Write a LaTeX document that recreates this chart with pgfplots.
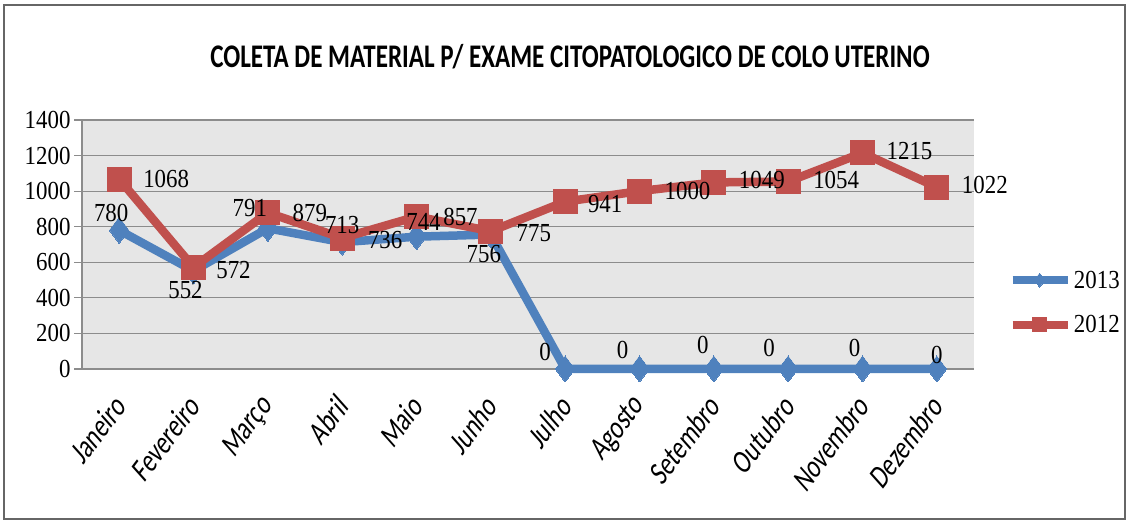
\documentclass[border=0pt]{standalone}
\usepackage{fontspec}
\setmainfont{Carlito}
\newfontfamily\numfont[FakeStretch=0.88]{Liberation Serif}
\newfontfamily\titlefont[FakeStretch=0.76]{Carlito}
\newfontfamily\monthfont[FakeStretch=0.8, FakeSlant=0.2]{Carlito}
\usepackage{pgfplots}
\pgfplotsset{compat=1.18}
\usepackage{pgfplotstable}
\definecolor{ser13}{HTML}{4F81BD}
\definecolor{ser12}{HTML}{C0504D}
\definecolor{plotbg}{HTML}{E6E6E6}
\definecolor{gridc}{HTML}{8C8C8C}

\pgfplotstableread{
x y lab dx dy
0 780 780 -8 17
1 552 552 -8 -19
2 791 791 -18 20
3 713 713 0 17
4 744 744 7 15
5 756 756 -7 -19
6 0 0 -20 17
7 0 0 -17 19
8 0 0 -11 24
9 0 0 -19 21
10 0 0 -8 21
11 0 0 0 14
}\dataA

\pgfplotstableread{
x y lab dx dy
0 1068 1068 47 0
1 572 572 40 -3
2 879 879 42 0
3 736 736 43 -2
4 857 857 44 0
5 775 775 43 -2
6 941 941 40 -2
7 1000 1000 48 0
8 1049 1049 48 2
9 1054 1054 48 2
10 1215 1215 47 2
11 1022 1022 48 2
}\dataB

\begin{document}
\begin{tikzpicture}[x=1pt,y=1pt]
\path[use as bounding box] (0pt,0pt) rectangle (1129pt,524pt);
\fill[white] (0pt,0pt) rectangle (1129pt,524pt);
\draw[gray!80!black, line width=2.5pt] (4pt,5pt) rectangle (1125pt,519pt);
\node[font=\titlefont\bfseries\fontsize{33}{33}\selectfont] at (570pt,467pt) {COLETA DE MATERIAL P/ EXAME CITOPATOLOGICO DE COLO UTERINO};
\begin{axis}[
  at={(82pt,155pt)}, anchor=south west,
  width=892pt, height=249pt, scale only axis,
  xmin=-0.5, xmax=11.5, ymin=0, ymax=1400,
  ytick={0,200,...,1400},
  xtick={0,...,11},
  xticklabels={Janeiro,Fevereiro,Março,Abril,Maio,Junho,Julho,Agosto,Setembro,Outubro,Novembro,Dezembro},
  axis background/.style={fill=plotbg},
  ymajorgrids, grid style={gridc, line width=1.2pt},
  axis x line*=bottom, axis y line*=left,
  axis line style={gridc, line width=1.2pt},
  x tick style={draw=none},
  y tick style={gridc, line width=1.2pt},
  tick align=outside, major tick length=8pt,
  /pgf/number format/1000 sep={},
  /pgf/number format/assume math mode=true,
  yticklabel style={font=\numfont\fontsize{26}{26}\selectfont, text=black},
  xticklabel style={font=\monthfont\fontsize{31}{31}\selectfont, rotate=53, anchor=east, text=black, inner sep=1pt},
  xticklabel shift=24pt,
  clip=false,
  legend style={draw=none, fill=none, at={(1.035,0.267)}, anchor=west,
    font=\numfont\fontsize{26}{26}\selectfont, row sep=22pt, cells={anchor=west}},
  legend image code/.code={\draw[#1, mark size=7pt, mark repeat=2, mark phase=2] plot coordinates {(0pt,0pt)(27pt,0pt)(55pt,0pt)};},
  nodes near coords style={font=\numfont\fontsize{26}{26}\selectfont, text=black, anchor=center, xshift=\lx pt, yshift=\ly pt},
]
\addplot[ser13, line width=8.5pt, line join=round, mark=diamond*, mark size=13pt,
  mark options={solid, fill=ser13, draw=ser13, line width=0pt}]
  table[x=x, y=y] {\dataA};
\addlegendentry{2013}
\addplot[ser12, line width=8.5pt, line join=round, mark=square*, mark size=12pt,
  mark options={solid, fill=ser12, draw=ser12, line width=0pt}]
  table[x=x, y=y] {\dataB};
\addlegendentry{2012}
\addplot[draw=none, mark=none, forget plot,
  visualization depends on={\thisrow{dx} \as \lx},
  visualization depends on={\thisrow{dy} \as \ly},
  point meta=explicit symbolic, nodes near coords]
  table[x=x, y=y, meta=lab] {\dataA};
\addplot[draw=none, mark=none, forget plot,
  visualization depends on={\thisrow{dx} \as \lx},
  visualization depends on={\thisrow{dy} \as \ly},
  point meta=explicit symbolic, nodes near coords]
  table[x=x, y=y, meta=lab] {\dataB};
\end{axis}
\end{tikzpicture}
\end{document}
